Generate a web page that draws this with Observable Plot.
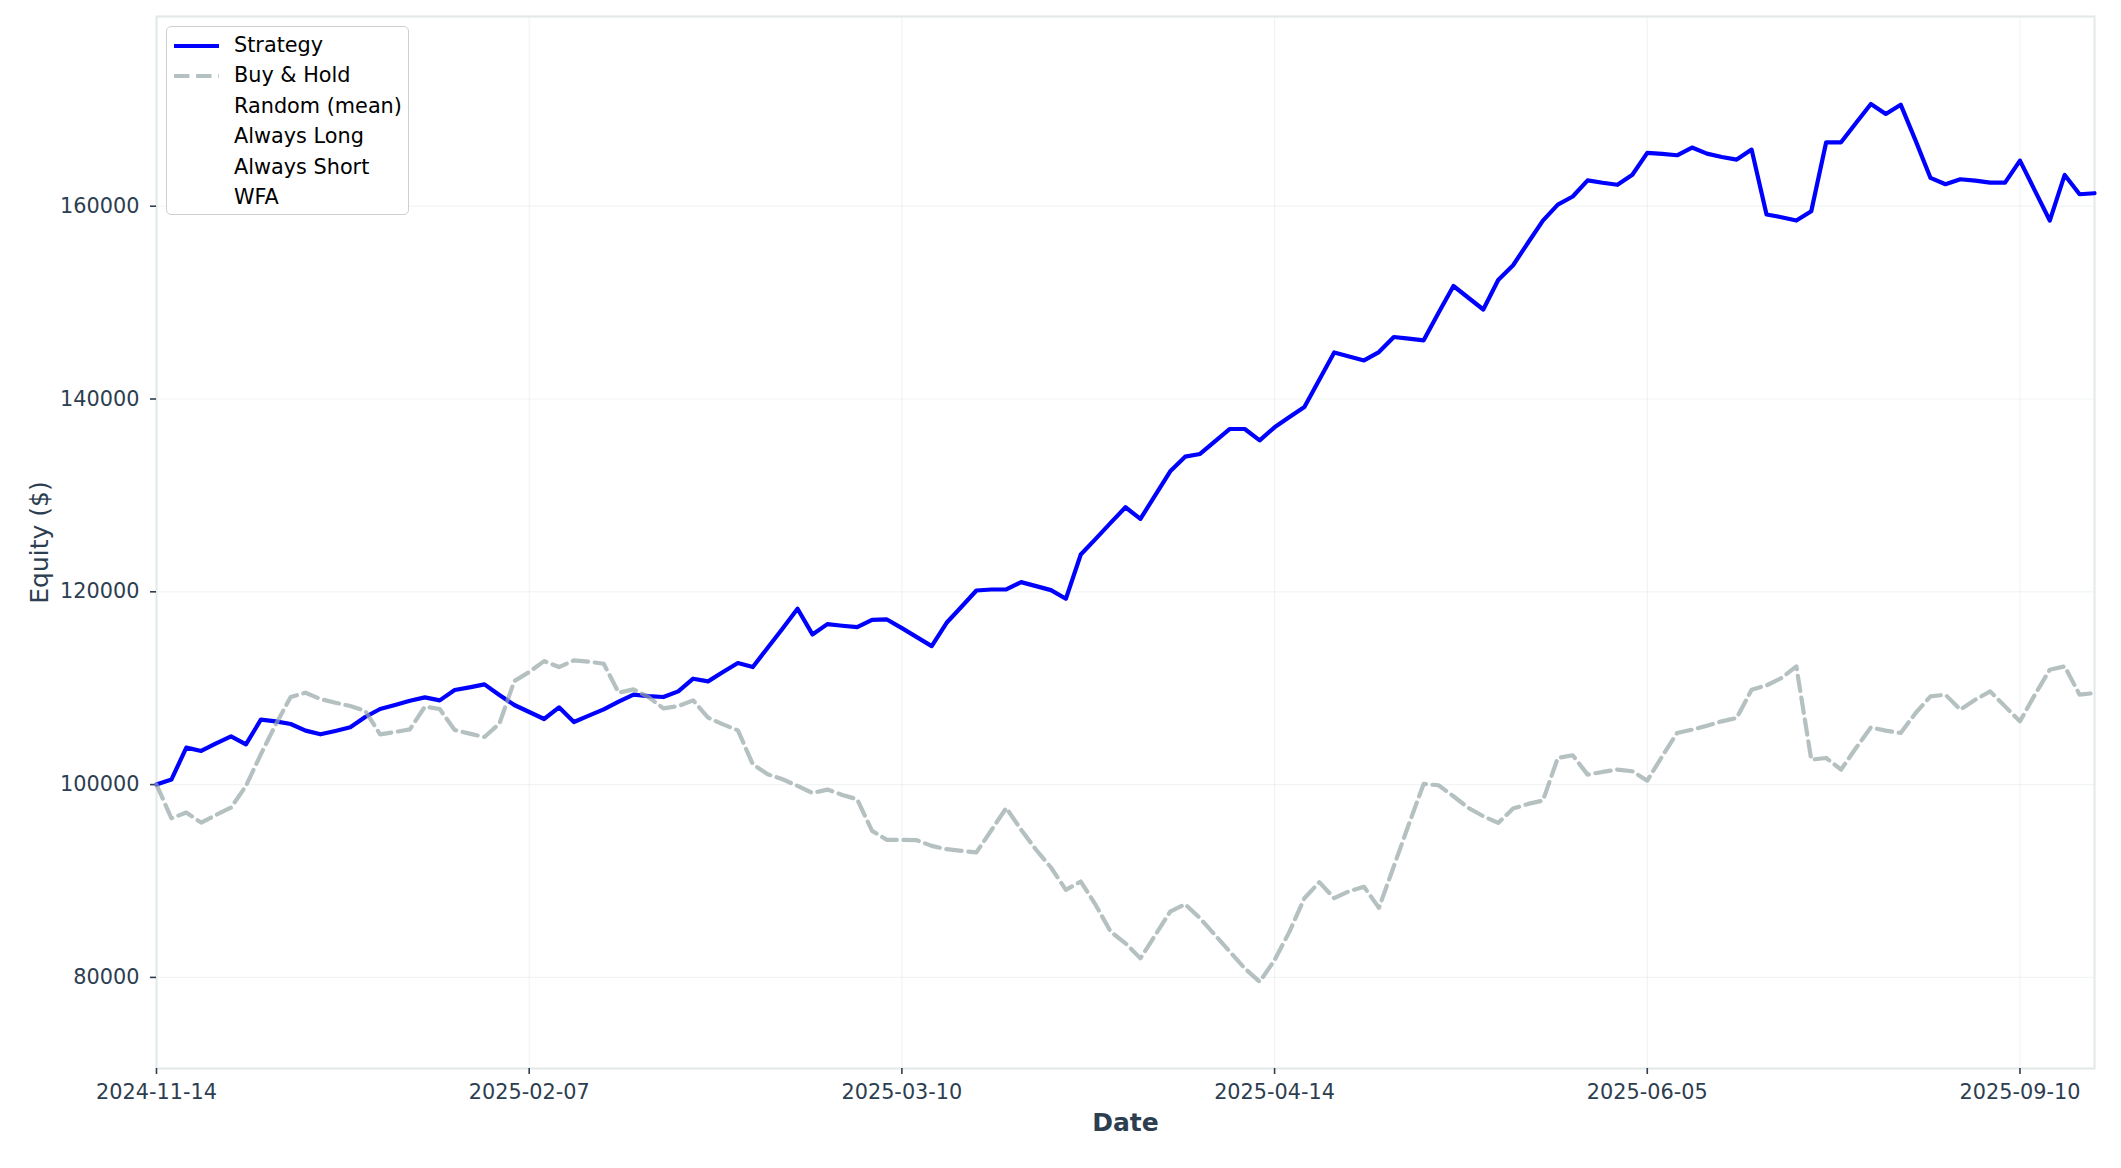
<!DOCTYPE html>
<html>
<head>
<meta charset="utf-8">
<script src="https://cdn.jsdelivr.net/npm/d3@7"></script>
<script src="https://cdn.jsdelivr.net/npm/@observablehq/plot@0.6"></script>
<style>
  html, body { margin: 0; padding: 0; background: #ffffff; }
  #wrap { position: relative; width: 2121px; height: 1168px; font-family: "DejaVu Sans", sans-serif; }
  #legend {
    position: absolute; left: 166px; top: 26px; width: 243px; height: 189px;
    border: 1.5px solid #cfcfcf; border-radius: 5px; background: rgba(255,255,255,0.8);
    box-sizing: border-box;
  }
  .item { position: absolute; left: 0; height: 30px; width: 240px; }
  .item svg { position: absolute; left: 6px; top: 9px; }
  .item span { position: absolute; left: 67px; top: 2px; font-size: 20.8px; color: #000; white-space: nowrap; line-height: 24px; }
</style>
</head>
<body>
<div id="wrap"><div id="chart"></div><div id="legend"></div></div>
<script>
// ---- data ----
const tickIndex = [0, 25, 50, 75, 100, 125];
const tickLabels = ["2024-11-14", "2025-02-07", "2025-03-10", "2025-04-14", "2025-06-05", "2025-09-10"];
const yTicks = [80000, 100000, 120000, 140000, 160000];
const seriesNames = ["Strategy", "Buy & Hold", "Random (mean)", "Always Long", "Always Short", "WFA"];

const strategy = [
  100000, 100518, 103834, 103489, 104283, 105009, 104180, 106736, 106563, 106287,
  105596, 105216, 105561, 105941, 107012, 107841, 108256, 108705, 109050, 108739,
  109810, 110086, 110397, 109292, 108256, 107530, 106805, 108014, 106494, 107150,
  107807, 108601, 109326, 109188, 109085, 109672, 110984, 110708, 111675, 112608,
  112193, 114197, 116200, 118238, 115579, 116649, 116477, 116339, 117098, 117133,
  116235, 115302, 114370, 116788, 118450, 120138, 120242, 120242, 121002, 120587,
  120173, 119275, 123868, 125492, 127150, 128773, 127564, 130034, 132503, 134023,
  134300, 135612, 136890, 136890, 135716, 137063, 138133, 139170, 142000, 144834,
  144417, 144000, 144869, 146434, 146260, 146087, 148939, 151721, 150504, 149286,
  152347, 153877, 156208, 158503, 160172, 161007, 162677, 162433, 162224, 163268,
  165528, 165424, 165285, 166085, 165459, 165111, 164836, 165872, 159136, 158860,
  158515, 159482, 166632, 166632, 168635, 170604, 169568, 170535, 166805, 162936,
  162280, 162798, 162660, 162452, 162452, 164732, 161623, 158515, 163247, 161243,
  161347
];

const buyHold = [
  100000, 96511, 97098, 96062, 96857, 97617, 99862, 103143, 106252, 109085,
  109534, 108877, 108497, 108152, 107634, 105216, 105458, 105734, 108083, 107841,
  105665, 105285, 104940, 106321, 110743, 111675, 112815, 112193, 112884, 112746,
  112539, 109534, 109879, 109085, 107910, 108152, 108739, 106943, 106252, 105630,
  102107, 101071, 100553, 99862, 99136, 99482, 98929, 98480, 95199, 94266,
  94266, 94231, 93644, 93299, 93126, 92963, 95268, 97572, 95320, 93240,
  91403, 89081, 89947, 87521, 84748, 83535, 81976, 84402, 86828, 87590,
  86135, 84402, 82669, 80936, 79549, 81802, 84748, 88214, 89878, 88214,
  88947, 89400, 87220, 91537, 95855, 100069, 99931, 98791, 97582, 96719,
  96028, 97513, 97997, 98342, 102763, 103040, 101036, 101313, 101554, 101382,
  100414, 102936, 105354, 105700, 106100, 106563, 106908, 109844, 110293, 111053,
  112262, 102590, 102763, 101554, 103799, 105941, 105596, 105354, 107426, 109153,
  109326, 107772, 108808, 109672, 108117, 106563, 109326, 111917, 112262, 109326,
  109499
];

// ---- build ----
const strategyData = strategy.map((v, i) => ({i, v}));
const buyHoldData = buyHold.map((v, i) => ({i, v}));
const ink = "#2c3e50";
const lineW = 4.2;
const dash = "15.4,6.7";

const chart = Plot.plot({
  width: 2121,
  height: 1168,
  marginLeft: 156,
  marginRight: 27,
  marginTop: 16,
  marginBottom: 100,
  style: {fontFamily: "DejaVu Sans, sans-serif", fontSize: "20.8px", color: ink, background: "#ffffff", overflow: "visible"},
  x: {domain: [0, strategy.length - 1]},
  y: {domain: [70550, 179680]},
  marks: [
    Plot.gridX(tickIndex, {stroke: "#95a5a6", strokeOpacity: 0.12, strokeWidth: 1.2}),
    Plot.gridY(yTicks, {stroke: "#95a5a6", strokeOpacity: 0.12, strokeWidth: 1.2}),
    Plot.frame({stroke: "#e3e8e8", strokeWidth: 2}),
    Plot.axisX(tickIndex, {
      tickFormat: (d) => tickLabels[tickIndex.indexOf(d)],
      tickSize: 6, tickPadding: 10, strokeWidth: 1.6, label: null, fill: ink
    }),
    Plot.axisY(yTicks, {
      tickFormat: (d) => String(d),
      tickSize: 6, tickPadding: 11, strokeWidth: 1.6, label: null, fill: ink
    }),
    Plot.line(strategyData, {x: "i", y: "v", stroke: "#0000ff", strokeWidth: lineW, strokeLinejoin: "round"}),
    Plot.line(buyHoldData, {x: "i", y: "v", stroke: "#95a5a6", strokeOpacity: 0.7, strokeWidth: lineW, strokeDasharray: dash, strokeLinejoin: "round"}),
    Plot.text(["Date"], {text: (d) => d, frameAnchor: "bottom", dy: 62, lineAnchor: "bottom", fontWeight: "bold", fontSize: 25, fill: ink}),
    Plot.text(["Equity ($)"], {text: (d) => d, frameAnchor: "left", dx: -109, rotate: -90, lineAnchor: "bottom", textAnchor: "middle", fontSize: 25, fill: ink})
  ]
});
document.getElementById("chart").appendChild(chart);

// ---- legend ----
const legendStyles = [
  {stroke: "#0000ff", opacity: 1, dash: null},
  {stroke: "#95a5a6", opacity: 0.7, dash: dash},
  null, null, null, null
];
const legend = document.getElementById("legend");
seriesNames.forEach((name, k) => {
  const item = document.createElement("div");
  item.className = "item";
  item.style.top = (4 + k * 30.4) + "px";
  const st = legendStyles[k];
  let svg = '<svg width="48" height="12">';
  if (st) {
    svg += `<line x1="1" y1="6" x2="46" y2="6" stroke="${st.stroke}" stroke-opacity="${st.opacity}" stroke-width="${lineW}"${st.dash ? ` stroke-dasharray="${st.dash}"` : ""}/>`;
  }
  svg += "</svg>";
  item.innerHTML = svg + `<span>${name.replace("&", "&amp;")}</span>`;
  legend.appendChild(item);
});
</script>
</body>
</html>
